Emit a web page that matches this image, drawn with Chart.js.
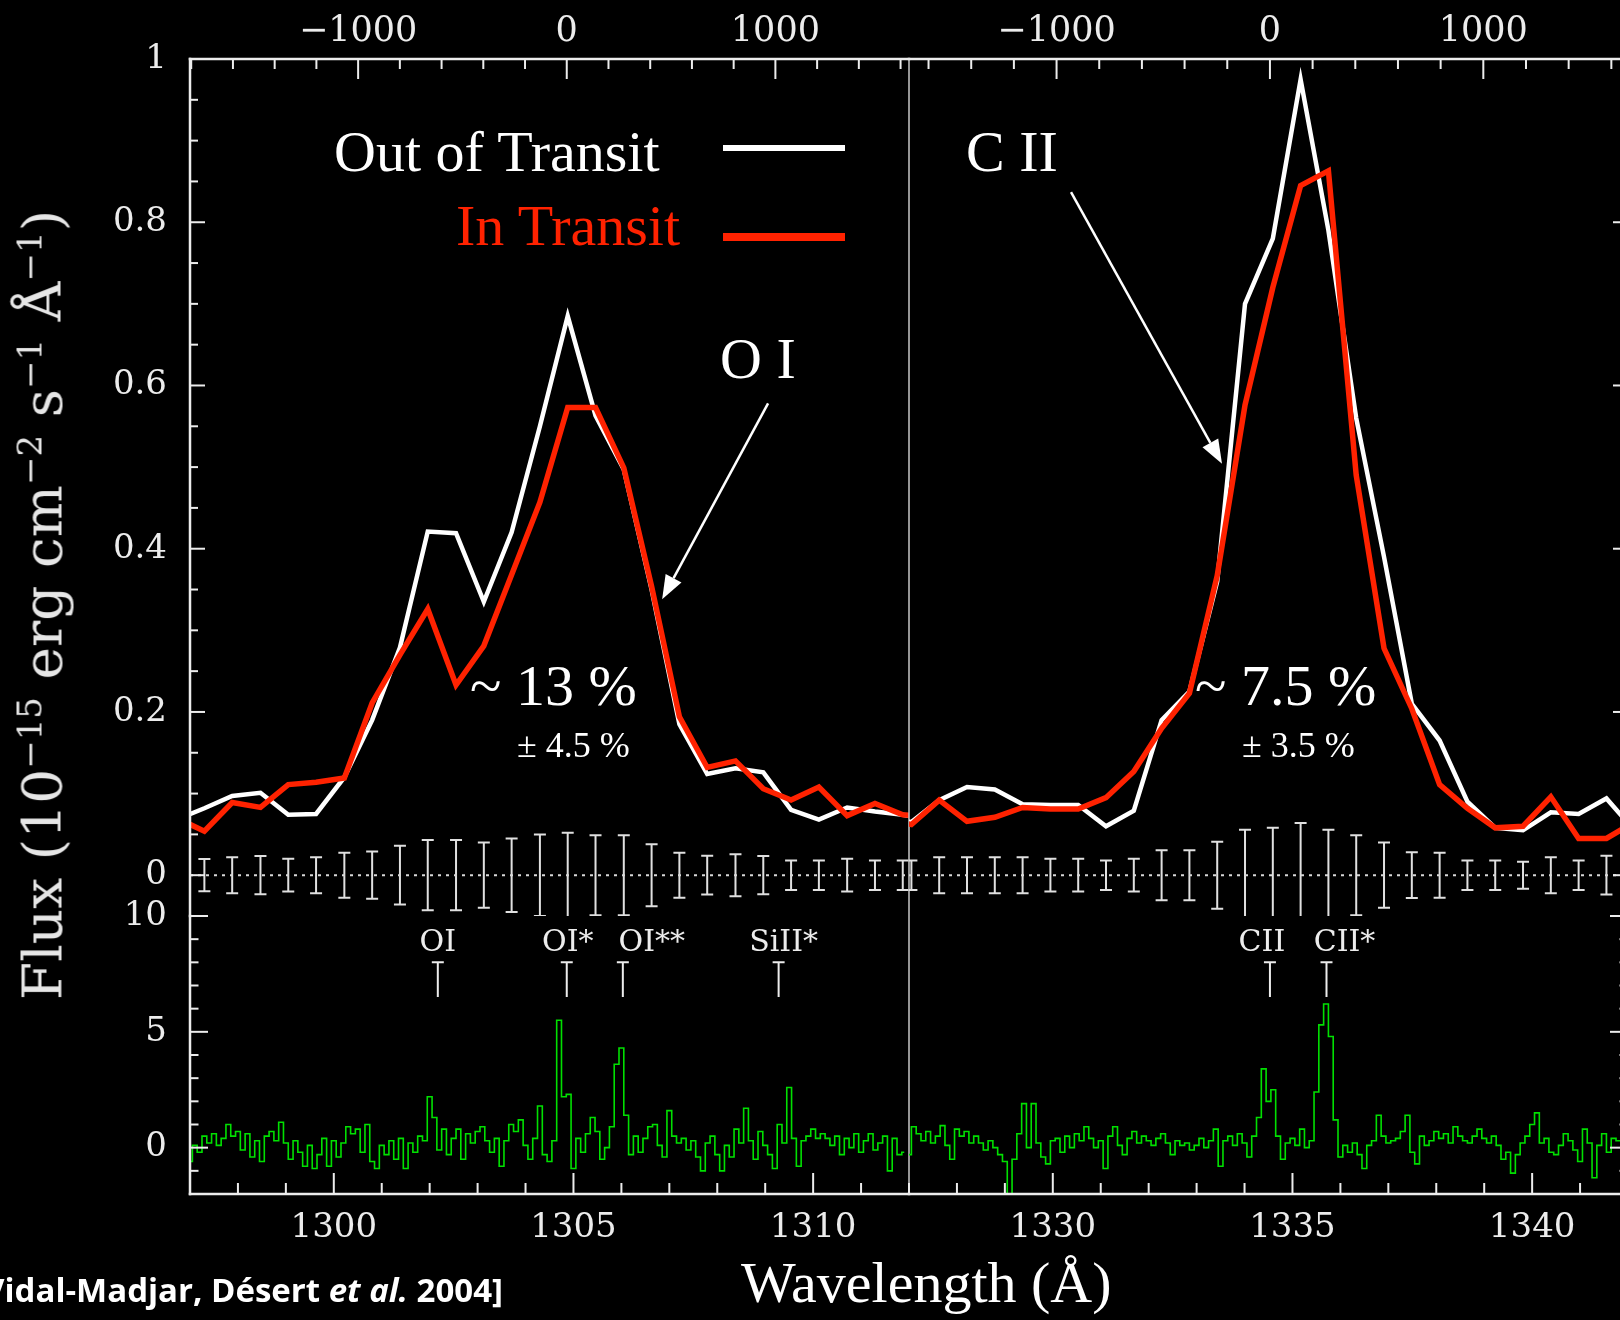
<!DOCTYPE html>
<html>
<head>
<meta charset="utf-8">
<script src="https://cdn.jsdelivr.net/npm/chart.js@4.4.1/dist/chart.umd.min.js"></script>
<style>
  html, body { margin: 0; background: #000; overflow: hidden; }
  #page { position: relative; width: 1620px; height: 1320px; overflow: hidden; background: #000; }
  canvas { position: absolute; }
  .note { position: absolute; font-family: 'Liberation Serif', 'Times New Roman', serif; line-height: 1; white-space: nowrap; color: #fff; z-index: 5; }
  .big { font-size: 58px; }
  .small { font-size: 36px; }
  .red { color: #ff2200; }
  .key { position: absolute; left: 723px; width: 122px; z-index: 5; }
  #ytitle { position: absolute; left: 43px; top: 605px; transform: translate(-50%, -50%) rotate(-90deg);
    font: 55px 'DejaVu Serif', serif; line-height: 1; color: #e6e6e6; white-space: nowrap; z-index: 5; }
  #ytitle sup { font-size: 0.62em; vertical-align: 0.6em; line-height: 0; }
  #cite { position: absolute; right: 1117px; top: 1273px; font: bold 33px 'Open Sans', sans-serif; line-height: 1;
    color: #fff; white-space: nowrap; transform: scaleX(1.0); transform-origin: right center; z-index: 5; }
</style>
</head>
<body>
<div id="page">
  <canvas id="ul" width="920" height="927" style="left:0;top:0"></canvas>
  <canvas id="ur" width="740" height="927" style="left:900px;top:0"></canvas>
  <canvas id="ll" width="920" height="425" style="left:0;top:895px"></canvas>
  <canvas id="lr" width="740" height="425" style="left:900px;top:895px"></canvas>

  <div class="note big" style="left:334px;top:123px">Out of Transit</div>
  <div class="note big red" style="left:456px;top:197px">In Transit</div>
  <div class="key" style="top:145px;height:6px;background:#fff"></div>
  <div class="key" style="top:233px;height:8px;background:#ff2200"></div>
  <div class="note big" style="left:720px;top:330px">O I</div>
  <div class="note big" style="left:966px;top:123px">C II</div>
  <div class="note big" style="left:470px;top:657px">~ 13 %</div>
  <div class="note small" style="left:517px;top:727px">± 4.5 %</div>
  <div class="note big" style="left:1195px;top:657px">~ 7.5 %</div>
  <div class="note small" style="left:1242px;top:727px">± 3.5 %</div>
  <div class="note big" style="left:741px;top:1254px">Wavelength (Å)</div>
  <div id="ytitle">Flux (10<sup>−15</sup> erg cm<sup>−2</sup> s<sup>−1</sup> Å<sup>−1</sup>)</div>
  <div id="cite">[Vidal-Madjar, Désert <i>et al.</i> 2004]</div>
</div>

<script>
// tick labels
const fluxTicks = [0, 0.2, 0.4, 0.6, 0.8, 1]
const snTicks = [0, 5, 10]
const velTicks = [-1000, 0, 1000]
const waveTicksLeft = [1300, 1305, 1310]
const waveTicksRight = [1330, 1335, 1340]

// rest wavelengths used for the top velocity axes
const restOI = 1304.86
const restCII = 1334.53

// binned flux, O I window
const binsLeft = [1296.72, 1297.30, 1297.88, 1298.47, 1299.05, 1299.63, 1300.22, 1300.80, 1301.38, 1301.96,
  1302.55, 1303.13, 1303.71, 1304.30, 1304.88, 1305.46, 1306.05, 1306.63, 1307.21, 1307.79,
  1308.38, 1308.96, 1309.54, 1310.12, 1310.71, 1311.29, 1311.87, 1312.45]
const outLeft = [0.068, 0.082, 0.097, 0.101, 0.074, 0.075, 0.12, 0.19, 0.279, 0.421,
  0.419, 0.335, 0.42, 0.55, 0.685, 0.563, 0.497, 0.35, 0.185, 0.124,
  0.131, 0.126, 0.080, 0.068, 0.083, 0.078, 0.074, 0.068]
const inLeft = [0.07, 0.054, 0.089, 0.083, 0.111, 0.114, 0.119, 0.211, 0.27, 0.326,
  0.233, 0.281, 0.368, 0.457, 0.573, 0.573, 0.499, 0.354, 0.194, 0.132,
  0.140, 0.106, 0.092, 0.108, 0.073, 0.088, 0.074, 0.072]
const errLeft = [0.02, 0.0198, 0.022, 0.0235, 0.020, 0.022, 0.0276, 0.029, 0.036, 0.043,
  0.043, 0.040, 0.045, 0.050, 0.052, 0.049, 0.049, 0.038, 0.0276, 0.0237,
  0.0257, 0.0235, 0.018, 0.018, 0.020, 0.018, 0.018, 0.018]

// binned flux, C II window
const binsRight = [1326.47, 1327.05, 1327.63, 1328.21, 1328.79, 1329.37, 1329.95, 1330.53, 1331.11, 1331.69,
  1332.27, 1332.85, 1333.43, 1334.01, 1334.59, 1335.17, 1335.75, 1336.33, 1336.91, 1337.49,
  1338.07, 1338.65, 1339.23, 1339.81, 1340.39, 1340.97, 1341.55, 1342.13]
const outRight = [0.07, 0.065, 0.092, 0.108, 0.105, 0.087, 0.086, 0.086, 0.060, 0.079,
  0.19, 0.225, 0.36, 0.70, 0.78, 0.975, 0.79, 0.56, 0.39, 0.21,
  0.165, 0.09, 0.058, 0.055, 0.077, 0.075, 0.094, 0.055]
const inRight = [0.07, 0.062, 0.092, 0.066, 0.071, 0.083, 0.081, 0.081, 0.095, 0.127,
  0.18, 0.223, 0.367, 0.576, 0.72, 0.845, 0.863, 0.49, 0.278, 0.204,
  0.111, 0.082, 0.058, 0.060, 0.096, 0.045, 0.045, 0.065]
const errRight = [0.018, 0.018, 0.022, 0.022, 0.022, 0.022, 0.020, 0.020, 0.018, 0.020,
  0.0306, 0.0306, 0.041, 0.0556, 0.058, 0.064, 0.0556, 0.049, 0.040, 0.028,
  0.0275, 0.018, 0.018, 0.0165, 0.022, 0.018, 0.0237, 0.02]

// high resolution spectrum (lower panels), one value every 0.1 A
const snStep = 0.1
const snStartLeft = 1297.0
const snLeft = [
  -0.6, 0.1, -0.2, 0.5, 0.2, 0.6, 0.1, 0.4, 1.0, 0.5,
  0.7, -0.1, 0.6, -0.4, 0.3, -0.6, 0.5, 0.7, 0.3, 1.1,
  0.2, -0.5, 0.3, -0.2, -0.8, 0.1, -0.9, -0.3, 0.4, -0.8,
  0.3, -0.4, 0.2, 0.9, 0.6, 0.8, -0.2, 1.0, -0.6, -0.9,
  0.1, -0.3, 0.3, -0.5, 0.4, -0.9, 0.2, -0.2, 0.5, 0.3,
  2.2, 1.3, -0.1, 0.8, -0.3, 0.4, 0.8, -0.5, 0.6, 0.2,
  0.7, 0.9, 0.3, -0.2, 0.4, -0.8, 0.3, 1.0, 0.7, 1.2,
  0.1, -0.5, 0.4, 1.8, -0.3, -0.6, 0.3, 5.5, 2.2, 2.3,
  -0.9, 0.4, -0.2, 0.6, 1.3, 0.7, -0.5, 0.0, 0.9, 3.6,
  4.3, 1.4, -0.3, 0.5, -0.2, 0.4, 0.9, 1.0, 0.1, -0.4,
  1.6, 0.5, 0.2, 0.4, -0.1, 0.3, -0.4, -1.0, 0.2, 0.5,
  -0.3, -1.0, 0.1, -0.4, 0.8, 0.2, 1.7, 0.3, -0.5, 0.7,
  0.1, -0.3, -0.9, 1.0, 0.2, 2.6, 0.4, -0.8, 0.3, 0.5,
  0.8, 0.4, 0.6, 0.4, 0.1, 0.5, -0.3, 0.4, 0.0, 0.6,
  -0.2, 0.3, 0.6, -0.1, 0.2, 0.5, -1.0, 0.4, -0.3, -0.2
]
const snStartRight = 1327.0
const snRight = [
  -0.3, 0.9, 0.6, 0.3, 0.7, 0.2, 0.5, 0.95, 0.1, -0.5,
  0.8, 0.5, 0.7, 0.2, 0.5, 0.2, -0.1, 0.3, 0.0, -0.3,
  -0.6, -2.0, -0.5, 0.6, 1.9, 0.0, 1.9, 0.2, -0.4, -0.7,
  0.3, 0.4, -0.2, 0.5, 0.0, 0.6, 0.3, 0.9, 0.4, 0.0,
  0.3, -0.9, 0.5, 0.9, 0.1, -0.3, 0.4, 0.7, 0.2, 0.5,
  0.3, 0.1, 0.4, 0.6, 0.2, -0.3, 0.3, 0.1, 0.2, -0.1,
  0.1, 0.4, 0.0, 0.3, 0.8, -0.8, 0.3, 0.5, 0.1, 0.6,
  0.2, -0.4, 0.5, 1.3, 3.4, 2.0, 2.5, 0.5, -0.5, 0.2,
  0.4, 0.1, 0.8, 0.0, 0.3, 2.4, 5.3, 6.2, 4.8, 1.2,
  -0.4, 0.1, -0.2, 0.2, -0.3, -0.9, 0.1, 0.3, 1.4, 0.5,
  0.2, 0.3, 0.4, 0.7, 1.4, -0.2, -0.7, 0.5, 0.1, 0.3,
  0.7, 0.4, 0.6, 0.2, 0.9, 0.5, 0.3, 0.2, 0.5, 0.8,
  0.4, 0.2, 0.5, 0.1, -0.5, -0.2, -1.1, -0.3, 0.2, 0.5,
  1.0, 1.5, 0.2, 0.4, -0.2, -0.3, 0.1, 0.6, 0.3, -0.1,
  -0.6, 0.8, 0.2, -1.3, 0.1, 0.6, -0.2, 0.4, 0.3, -0.4
]

// line identifications in the lower panels
const lineNamesLeft = ['OI', 'OI*', 'OI**', 'SiII*']
const lineWavesLeft = [1302.17, 1304.86, 1306.03, 1309.28]
const lineNamesRight = ['CII', 'CII*']
const lineWavesRight = [1334.53, 1335.71]

const red = '#ff2200'
const green = '#00e000'
const ink = '#ececec'
const tickFont = "'DejaVu Serif', serif"

const C = 299792.458
const vel = (w, w0) => (w / w0 - 1) * C
const pts = (xs, ys) => xs.map((x, i) => ({ x, y: ys[i] }))
const waveGrid = (start, n) => Array.from({ length: n }, (_, i) => +(start + i * snStep).toFixed(2))

// inward tick marks and frame sides, placed from the chart scales
const framePlugin = {
  id: 'frame',
  afterDatasetsDraw(chart, args, o) {
    if (!o.ticks) return
    const { ctx, chartArea: a } = chart
    ctx.save()
    ctx.strokeStyle = ink
    ctx.lineWidth = 2
    o.ticks.forEach(t => {
      const s = chart.scales[t.scale]
      const first = Math.ceil(s.min / t.minor - 1e-6)
      const last = Math.floor(s.max / t.minor + 1e-6)
      for (let i = first; i <= last; i++) {
        const v = i * t.minor
        const r = v / t.major
        const len = Math.abs(r - Math.round(r)) < 1e-6 ? t.long : t.short
        const p = s.getPixelForValue(v)
        ctx.beginPath()
        if (t.side === 'left') { ctx.moveTo(a.left, p); ctx.lineTo(a.left + len, p) }
        if (t.side === 'right') { ctx.moveTo(a.right, p); ctx.lineTo(a.right - len, p) }
        if (t.side === 'top') { ctx.moveTo(p, a.top); ctx.lineTo(p, a.top + len) }
        if (t.side === 'bottom') { ctx.moveTo(p, a.bottom); ctx.lineTo(p, a.bottom - len) }
        ctx.stroke()
      }
    })
    ctx.lineWidth = 2.5
    ctx.lineCap = 'square'
    o.sides.forEach(side => {
      ctx.beginPath()
      if (side === 'left') { ctx.moveTo(a.left, a.top); ctx.lineTo(a.left, a.bottom) }
      if (side === 'right') { ctx.moveTo(a.right, a.top); ctx.lineTo(a.right, a.bottom) }
      if (side === 'top') { ctx.moveTo(a.left, a.top); ctx.lineTo(a.right, a.top) }
      if (side === 'bottom') { ctx.moveTo(a.left, a.bottom); ctx.lineTo(a.right, a.bottom) }
      ctx.stroke()
    })
    if (o.divider) {
      ctx.lineCap = 'butt'
      ctx.strokeStyle = '#c8c8c8'
      ctx.lineWidth = 1.5
      ctx.beginPath()
      ctx.moveTo(a.right, a.top)
      ctx.lineTo(a.right, a.bottom)
      ctx.stroke()
    }
    ctx.restore()
  }
}

const errPlugin = {
  id: 'errbars',
  beforeDatasetsDraw(chart, args, o) {
    if (!o.x) return
    const { ctx, chartArea: a, scales: { x, y } } = chart
    ctx.save()
    ctx.beginPath()
    ctx.rect(a.left, a.top, a.right - a.left, a.bottom - a.top)
    ctx.clip()
    ctx.strokeStyle = '#e0e0e0'
    ctx.lineWidth = 2
    o.x.forEach((w, i) => {
      const px = x.getPixelForValue(w)
      const top = y.getPixelForValue(o.e[i])
      const bot = y.getPixelForValue(-o.e[i])
      ctx.beginPath()
      ctx.moveTo(px, top); ctx.lineTo(px, bot)
      ctx.moveTo(px - 6, top); ctx.lineTo(px + 6, top)
      ctx.moveTo(px - 6, bot); ctx.lineTo(px + 6, bot)
      ctx.stroke()
    })
    ctx.restore()
  }
}

const arrowPlugin = {
  id: 'arrows',
  afterDatasetsDraw(chart, args, o) {
    if (!o.list) return
    const { ctx, scales: { x, y } } = chart
    ctx.save()
    ctx.strokeStyle = '#fff'
    ctx.fillStyle = '#fff'
    ctx.lineWidth = 2.5
    o.list.forEach(([x0, y0, x1, y1]) => {
      const ax = x.getPixelForValue(x0), ay = y.getPixelForValue(y0)
      const bx = x.getPixelForValue(x1), by = y.getPixelForValue(y1)
      const ang = Math.atan2(by - ay, bx - ax)
      const cx = bx - 24 * Math.cos(ang), cy = by - 24 * Math.sin(ang)
      ctx.beginPath(); ctx.moveTo(ax, ay); ctx.lineTo(cx, cy); ctx.stroke()
      ctx.beginPath()
      ctx.moveTo(bx, by)
      ctx.lineTo(cx + 9 * Math.sin(ang), cy - 9 * Math.cos(ang))
      ctx.lineTo(cx - 9 * Math.sin(ang), cy + 9 * Math.cos(ang))
      ctx.closePath()
      ctx.fill()
    })
    ctx.restore()
  }
}

const idPlugin = {
  id: 'lineIds',
  afterDatasetsDraw(chart, args, o) {
    if (!o.names) return
    const { ctx, scales: { x, y } } = chart
    const top = y.getPixelForValue(8.0), bot = y.getPixelForValue(6.5), base = y.getPixelForValue(8.5)
    ctx.save()
    ctx.strokeStyle = ink
    ctx.fillStyle = ink
    ctx.lineWidth = 2
    ctx.font = '30px ' + tickFont
    ctx.textAlign = 'center'
    ctx.textBaseline = 'alphabetic'
    o.names.forEach((n, i) => {
      const px = x.getPixelForValue(o.waves[i])
      ctx.beginPath()
      ctx.moveTo(px, top); ctx.lineTo(px, bot)
      ctx.moveTo(px - 6, top); ctx.lineTo(px + 6, top)
      ctx.stroke()
      ctx.fillText(n, px + o.shift[i], base)
    })
    ctx.restore()
  }
}

Chart.register(framePlugin, errPlugin, arrowPlugin, idPlugin)

const hidden = { display: false, drawTicks: false }

// fixed axis boxes, no extra room for label overhang
const fixWidth = w => s => {
  if (!s.options.display) return
  s.width = w
  s.paddingTop = 0
  s.paddingBottom = 0
}
const fixHeight = h => s => {
  s.height = h
  s.paddingLeft = 0
  s.paddingRight = 0
}

function upper(id, p) {
  const line = { xAxisID: 'x', yAxisID: 'y', pointRadius: 0, tension: 0, clip: 0, fill: false }
  return new Chart(document.getElementById(id), {
    type: 'line',
    data: {
      datasets: [
        { ...line, data: pts(p.bins, p.inn), borderColor: red, borderWidth: 5.5, order: 1 },
        { ...line, data: pts(p.bins, p.out), borderColor: '#fff', borderWidth: 4.5, order: 2 },
        { ...line, data: [{ x: p.range[0], y: 0 }, { x: p.range[1], y: 0 }], borderColor: '#d8d8d8', borderWidth: 2, borderDash: [3, 5], order: 3 }
      ]
    },
    options: {
      responsive: false, animation: false, devicePixelRatio: 1, events: [],
      layout: { padding: p.pad },
      plugins: {
        legend: { display: false }, tooltip: { enabled: false },
        frame: p.frame, errbars: { x: p.bins, e: p.err }, arrows: { list: p.arrows }
      },
      scales: {
        x: { type: 'linear', min: p.range[0], max: p.range[1], display: false },
        xv: {
          type: 'linear', axis: 'x', position: 'top',
          min: vel(p.range[0], p.rest), max: vel(p.range[1], p.rest),
          grid: hidden, border: { display: false },
          ticks: { color: ink, font: { family: tickFont, size: 35 }, padding: 6, autoSkip: false, maxRotation: 0,
            callback: v => v < 0 ? '−' + (-v) : '' + v },
          afterBuildTicks: s => { s.ticks = velTicks.map(v => ({ value: v })) },
          afterFit: fixHeight(59)
        },
        y: {
          display: p.yLabels, min: -0.05, max: 1,
          grid: hidden, border: { display: false },
          ticks: { color: ink, font: { family: tickFont, size: 34 }, padding: 23, autoSkip: false,
            callback: v => v === 0 || v === 1 ? '' + v : v.toFixed(1) },
          afterBuildTicks: s => { s.ticks = fluxTicks.map(v => ({ value: v })) },
          afterFit: fixWidth(190)
        }
      }
    }
  })
}

function lower(id, p) {
  return new Chart(document.getElementById(id), {
    type: 'line',
    data: {
      datasets: [{
        data: pts(p.waves, p.sn), xAxisID: 'x', yAxisID: 'y', borderColor: green, borderWidth: 1.6,
        stepped: 'middle', pointRadius: 0, clip: 0, fill: false
      }]
    },
    options: {
      responsive: false, animation: false, devicePixelRatio: 1, events: [],
      layout: { padding: p.pad },
      plugins: {
        legend: { display: false }, tooltip: { enabled: false },
        frame: p.frame, lineIds: p.ids
      },
      scales: {
        x: {
          type: 'linear', position: 'bottom', min: p.range[0], max: p.range[1],
          grid: hidden, border: { display: false },
          ticks: { color: ink, font: { family: tickFont, size: 34 }, padding: 14, autoSkip: false, maxRotation: 0,
            callback: v => '' + v },
          afterBuildTicks: s => { s.ticks = p.waveTicks.map(v => ({ value: v })) },
          afterFit: fixHeight(126)
        },
        y: {
          display: p.yLabels, min: -2, max: 10,
          grid: hidden, border: { display: false },
          ticks: { color: ink, font: { family: tickFont, size: 34 }, padding: 23, autoSkip: false },
          afterBuildTicks: s => { s.ticks = snTicks.map(v => ({ value: v })) },
          afterFit: fixWidth(190)
        }
      }
    }
  })
}

const topTicks = { scale: 'xv', side: 'top', minor: 200, major: 1000, short: 10, long: 20 }
const bottomTicks = { scale: 'x', side: 'bottom', minor: 1, major: 5, short: 11, long: 21 }

upper('ul', {
  bins: binsLeft, out: outLeft, inn: inLeft, err: errLeft, range: [1297, 1312], rest: restOI,
  pad: { left: 0, right: 11, top: 0, bottom: 11 }, yLabels: true,
  arrows: [[1309.06, 0.578, 1306.85, 0.338]],
  frame: {
    ticks: [{ scale: 'y', side: 'left', minor: 0.05, major: 0.2, short: 8, long: 15 }, topTicks],
    sides: ['left', 'top'], divider: true
  }
})

upper('ur', {
  bins: binsRight, out: outRight, inn: inRight, err: errRight, range: [1327, 1342], rest: restCII,
  pad: { left: 9, right: 12, top: 0, bottom: 11 }, yLabels: false,
  arrows: [[1330.38, 0.837, 1333.53, 0.504]],
  frame: {
    ticks: [{ scale: 'y', side: 'right', minor: 0.05, major: 0.2, short: 8, long: 15 }, topTicks],
    sides: ['top', 'right']
  }
})

lower('ll', {
  waves: waveGrid(snStartLeft, snLeft.length), sn: snLeft, range: [1297, 1312], waveTicks: waveTicksLeft,
  pad: { left: 0, right: 11, top: 21, bottom: 0 }, yLabels: true,
  ids: { names: lineNamesLeft, waves: lineWavesLeft, shift: [0, 1, 29, 5] },
  frame: {
    ticks: [{ scale: 'y', side: 'left', minor: 1, major: 5, short: 8.5, long: 18 }, bottomTicks],
    sides: ['left', 'bottom'], divider: true
  }
})

lower('lr', {
  waves: waveGrid(snStartRight, snRight.length), sn: snRight, range: [1327, 1342], waveTicks: waveTicksRight,
  pad: { left: 9, right: 12, top: 21, bottom: 0 }, yLabels: false,
  ids: { names: lineNamesRight, waves: lineWavesRight, shift: [-8, 18] },
  frame: {
    ticks: [{ scale: 'y', side: 'right', minor: 1, major: 5, short: 8.5, long: 18 }, bottomTicks],
    sides: ['bottom', 'right']
  }
})
</script>
</body>
</html>
